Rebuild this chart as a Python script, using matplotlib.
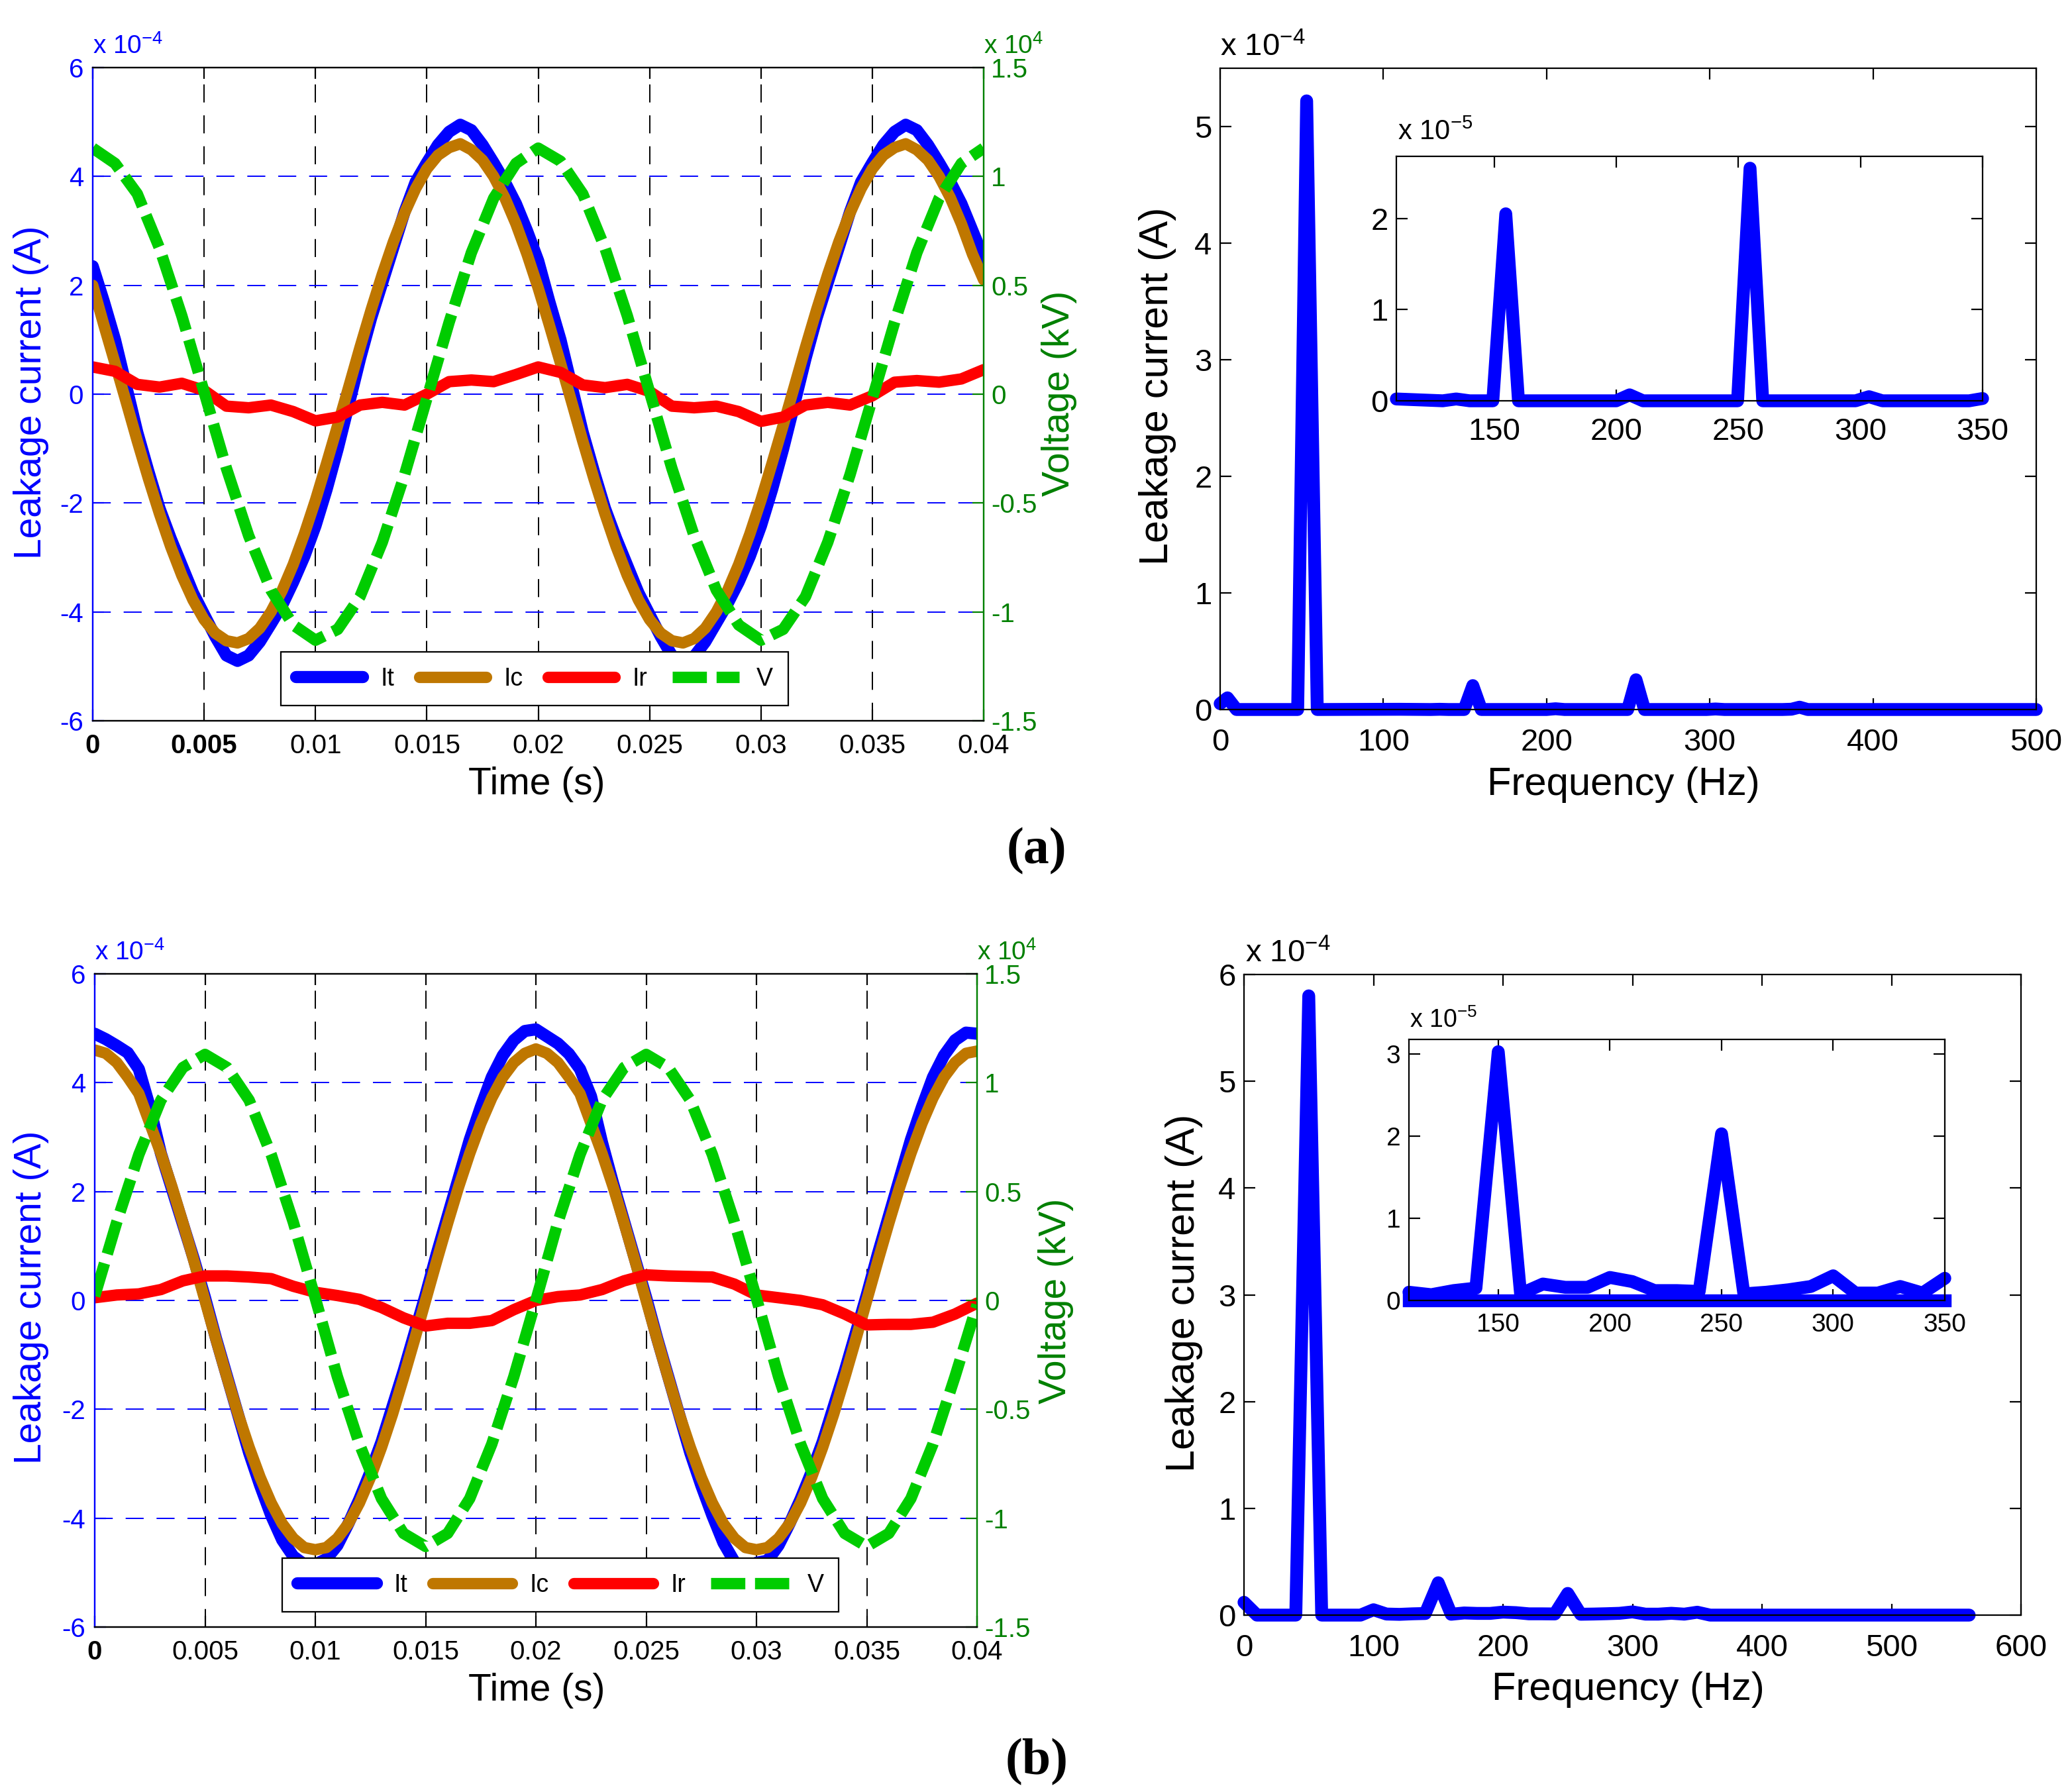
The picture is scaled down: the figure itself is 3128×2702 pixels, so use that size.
import numpy as np
import matplotlib
matplotlib.use("Agg")
import matplotlib.pyplot as plt

plt.rcParams["font.family"] = ["Liberation Sans", "DejaVu Sans"]
plt.rcParams["mathtext.fontset"] = "custom"
plt.rcParams["mathtext.rm"] = "Liberation Sans"
plt.rcParams["mathtext.it"] = "Liberation Sans"

W, H, DPI = 3128, 2702, 200

BLUE = "#0000ff"
BROWN = "#bf7700"
RED = "#ff0000"
LGREEN = "#00cc00"
DGREEN = "#008000"

# ---------------- data ----------------
# readings every 0.5 ms (It, Ic) and every 1 ms (Ir, V)
t_half = np.arange(0, 81) / 2000.0
t = np.arange(0, 41) / 1000.0

# (a) leakage currents in 1e-4 A, voltage in 1e4 V
it_a = [2.35, 1.70, 1.00, 0.15, -0.70, -1.42, -2.10, -2.65, -3.15, -3.65,
        -4.05, -4.45, -4.80, -4.90, -4.80, -4.55, -4.22, -3.88, -3.45, -2.98,
        -2.42, -1.75, -1.00, -0.18, 0.65, 1.40, 2.05, 2.70, 3.35, 3.90,
        4.25, 4.58, 4.82, 4.95, 4.85, 4.58, 4.25, 3.90, 3.50, 3.00,
        2.45, 1.70, 1.00, 0.15, -0.70, -1.42, -2.10, -2.65, -3.15, -3.65,
        -4.05, -4.45, -4.80, -4.92, -4.82, -4.55, -4.20, -3.85, -3.45, -2.98,
        -2.42, -1.75, -1.00, -0.18, 0.65, 1.40, 2.05, 2.70, 3.35, 3.90,
        4.25, 4.58, 4.82, 4.95, 4.85, 4.58, 4.25, 3.90, 3.50, 3.00,
        2.50]
ic_a = [2.00, 1.27, 0.57, -0.14, -0.86, -1.55, -2.20, -2.80, -3.33, -3.78,
        -4.14, -4.39, -4.53, -4.57, -4.49, -4.30, -4.00, -3.61, -3.13, -2.57,
        -1.95, -1.27, -0.57, 0.14, 0.86, 1.55, 2.20, 2.80, 3.33, 3.78,
        4.14, 4.39, 4.53, 4.60, 4.49, 4.30, 4.00, 3.61, 3.13, 2.57,
        1.95, 1.27, 0.57, -0.14, -0.86, -1.55, -2.20, -2.80, -3.33, -3.78,
        -4.14, -4.39, -4.53, -4.57, -4.49, -4.30, -4.00, -3.61, -3.13, -2.57,
        -1.95, -1.27, -0.57, 0.14, 0.86, 1.55, 2.20, 2.80, 3.33, 3.78,
        4.14, 4.39, 4.53, 4.60, 4.49, 4.30, 4.00, 3.61, 3.13, 2.57,
        2.10]
ir_a = [0.50, 0.42, 0.18, 0.13, 0.20, 0.07, -0.22, -0.25, -0.20, -0.32,
        -0.49, -0.42, -0.20, -0.15, -0.20, 0.00, 0.23, 0.26, 0.23, 0.36,
        0.50, 0.40, 0.17, 0.12, 0.18, 0.05, -0.22, -0.25, -0.22, -0.32,
        -0.50, -0.42, -0.20, -0.15, -0.20, -0.03, 0.22, 0.25, 0.22, 0.28,
        0.45]
v_a = [1.13, 1.06, 0.92, 0.67, 0.36, 0.01, -0.34, -0.65, -0.90, -1.06,
       -1.13, -1.08, -0.93, -0.68, -0.37, -0.02, 0.33, 0.65, 0.90, 1.06,
       1.13, 1.07, 0.92, 0.67, 0.36, 0.01, -0.34, -0.65, -0.90, -1.06,
       -1.13, -1.08, -0.93, -0.68, -0.37, -0.02, 0.33, 0.65, 0.90, 1.06,
       1.13]

# (b)
it_b = [4.90, 4.80, 4.68, 4.55, 4.25, 3.55, 2.70, 2.05, 1.40, 0.75,
        0.05, -0.70, -1.40, -2.10, -2.80, -3.40, -3.95, -4.40, -4.70, -4.85,
        -4.85, -4.75, -4.50, -4.10, -3.65, -3.15, -2.60, -1.95, -1.30, -0.60,
        0.10, 0.85, 1.55, 2.25, 2.95, 3.55, 4.10, 4.50, 4.78, 4.95,
        4.98, 4.85, 4.72, 4.53, 4.25, 3.75, 2.90, 2.15, 1.45, 0.75,
        0.05, -0.70, -1.40, -2.10, -2.80, -3.40, -3.95, -4.45, -4.80, -4.92,
        -4.82, -4.78, -4.50, -4.10, -3.65, -3.15, -2.60, -1.95, -1.30, -0.60,
        0.10, 0.85, 1.55, 2.25, 2.95, 3.55, 4.10, 4.50, 4.78, 4.92,
        4.90]
ic_b = [4.60, 4.54, 4.37, 4.10, 3.80, 3.25, 2.70, 2.09, 1.42, 0.72,
        0.00, -0.72, -1.42, -2.09, -2.70, -3.25, -3.72, -4.10, -4.37, -4.54,
        -4.58, -4.54, -4.37, -4.10, -3.72, -3.25, -2.70, -2.09, -1.42, -0.72,
        0.00, 0.72, 1.42, 2.09, 2.70, 3.25, 3.72, 4.10, 4.37, 4.54,
        4.62, 4.54, 4.37, 4.10, 3.80, 3.25, 2.70, 2.09, 1.42, 0.72,
        0.00, -0.72, -1.42, -2.09, -2.70, -3.25, -3.72, -4.10, -4.37, -4.54,
        -4.58, -4.54, -4.37, -4.10, -3.72, -3.25, -2.70, -2.09, -1.42, -0.72,
        0.00, 0.72, 1.42, 2.09, 2.70, 3.25, 3.72, 4.10, 4.37, 4.54,
        4.58]
ir_b = [0.05, 0.10, 0.12, 0.20, 0.36, 0.45, 0.45, 0.43, 0.40, 0.26,
        0.15, 0.09, 0.02, -0.13, -0.32, -0.47, -0.42, -0.42, -0.37, -0.17,
        0.00, 0.07, 0.10, 0.20, 0.36, 0.47, 0.45, 0.44, 0.43, 0.30,
        0.10, 0.05, 0.00, -0.08, -0.25, -0.45, -0.44, -0.44, -0.40, -0.25,
        -0.05]
v_b = [0.02, 0.36, 0.67, 0.92, 1.07, 1.13, 1.07, 0.92, 0.67, 0.36,
       0.01, -0.35, -0.66, -0.91, -1.07, -1.13, -1.07, -0.91, -0.66, -0.35,
       0.00, 0.36, 0.67, 0.92, 1.07, 1.13, 1.07, 0.92, 0.67, 0.36,
       0.01, -0.35, -0.66, -0.91, -1.07, -1.13, -1.07, -0.91, -0.66, -0.35,
       -0.02]

# spectra, amplitude in 1e-4 A
freq_a = [0, 4.5, 10, 47.5, 53, 59.5, 110, 129, 134.5, 140, 149.5, 154.8,
          160, 200, 205.5, 211, 249.7, 254.8, 260, 298, 303.5, 309, 344.5,
          350, 355, 360, 500]
amp_a = [0.05, 0.10, 0.0, 0.0, 5.22, 0.0, 0.002, 0.0, 0.002, 0.0, 0.0, 0.205,
         0.0, 0.0, 0.0065, 0.0, 0.0, 0.255, 0.0, 0.0, 0.0045, 0.0, 0.0,
         0.0025, 0.02, 0.0, 0.0]

freq_b = np.arange(0, 561, 10)
amp_b = [0.12, 0.0, 0.0, 0.0, 0.0, 5.8, 0.0, 0.0, 0.0, 0.0,
         0.05, 0.010, 0.007, 0.012, 0.015, 0.303, 0.008, 0.020, 0.016, 0.016,
         0.028, 0.023, 0.012, 0.012, 0.011, 0.203, 0.008, 0.010, 0.013, 0.017,
         0.030, 0.009, 0.009, 0.017, 0.009, 0.027, 0.0, 0.0, 0.0, 0.0,
         0.0, 0.0, 0.0, 0.0, 0.0, 0.0, 0.0, 0.0, 0.0, 0.0,
         0.0, 0.0, 0.0, 0.0, 0.0, 0.0, 0.0]

t_ticks = [0, 0.005, 0.01, 0.015, 0.02, 0.025, 0.03, 0.035, 0.04]
t_labels = ["0", "0.005", "0.01", "0.015", "0.02", "0.025", "0.03", "0.035", "0.04"]
i_ticks = [-6, -4, -2, 0, 2, 4, 6]
v_ticks = [-1.5, -1, -0.5, 0, 0.5, 1, 1.5]
v_labels = ["-1.5", "-1", "-0.5", "0", "0.5", "1", "1.5"]
series_names = ["It", "Ic", "Ir", "V"]

LW_T = 6.2   # time-series line width
LW_S = 7.0   # spectrum line width

fig = plt.figure(figsize=(W / DPI, H / DPI), dpi=DPI)


def rect(l, t_, r, b):
    return [l / W, 1 - b / H, (r - l) / W, (b - t_) / H]


def ftext(x, y, s, **kw):
    fig.text(x / W, 1 - y / H, s, **kw)


def time_panel(box, it, ic, ir, v, bold_idx, lab, hlen, leg_x):
    ax = fig.add_axes(rect(*box))
    ax.plot(t_half, it, color=BLUE, lw=LW_T + 0.4, solid_capstyle="round",
            solid_joinstyle="round", label=series_names[0])
    ax.plot(t_half, ic, color=BROWN, lw=LW_T, solid_capstyle="round",
            solid_joinstyle="round", label=series_names[1])
    ax.plot(t, ir, color=RED, lw=LW_T, solid_capstyle="round",
            solid_joinstyle="round", label=series_names[2])
    ax2 = ax.twinx()
    ax2.plot(t, v, color=LGREEN, lw=LW_T, linestyle=(0, (3.0, 0.85)),
             label=series_names[3])

    ax.set_xlim(0, 0.04)
    ax.set_ylim(-6, 6)
    ax2.set_ylim(-1.5, 1.5)
    ax.set_xticks(t_ticks, t_labels)
    ax.set_yticks(i_ticks, [str(v_) for v_ in i_ticks])
    ax2.set_yticks(v_ticks, v_labels)
    for i in bold_idx:
        ax.get_xticklabels()[i].set_fontweight("bold")

    ax.tick_params(axis="x", direction="in", top=True, length=6, width=0.8,
                   labelsize=14.5, pad=7)
    ax.tick_params(axis="y", direction="in", colors=BLUE, length=6, width=0.8,
                   labelsize=14.5, pad=5)
    ax2.tick_params(axis="y", direction="in", colors=DGREEN, length=6, width=0.8,
                    labelsize=14.5, pad=4)
    ax.grid(axis="x", color="k", lw=0.7, linestyle=(0, (14, 10)))
    ax.grid(axis="y", color=BLUE, lw=0.7, linestyle=(0, (14, 10)))

    for a in (ax, ax2):
        for s in a.spines.values():
            s.set_linewidth(0.8)
    ax.spines["left"].set_color(BLUE)
    ax2.spines["left"].set_color(BLUE)
    ax.spines["right"].set_color(DGREEN)
    ax2.spines["right"].set_color(DGREEN)

    handles = ax.get_lines() + ax2.get_lines()
    leg = ax2.legend(handles, series_names, loc="lower center",
                     bbox_to_anchor=(leg_x, 0.004), ncol=4, fontsize=13.5,
                     handlelength=hlen, handletextpad=0.7, columnspacing=1.0,
                     borderpad=0.6, fancybox=False, framealpha=1,
                     edgecolor="black")
    leg.get_frame().set_linewidth(0.8)

    l, tp, r, b = box
    ftext(l, tp - 32, r"x 10$^{-4}$", color=BLUE, fontsize=14, ha="left", va="center")
    ftext(r, tp - 32, r"x 10$^{4}$", color=DGREEN, fontsize=14, ha="left", va="center")
    ftext(lab[0][0], lab[0][1], "Leakage current (A)", color=BLUE, fontsize=20.5,
          rotation=90, ha="center", va="center")
    ftext(lab[1][0], lab[1][1], "Voltage (kV)", color=DGREEN, fontsize=20.5,
          rotation=90, ha="center", va="center")
    ftext(lab[2][0], lab[2][1], "Time (s)", fontsize=20.5, ha="center", va="center")
    return ax


def spec_axes(box, f, amp, xlim, ylim, xticks, yticks, fs, pad):
    ax = fig.add_axes(rect(*box))
    ax.plot(f, amp, color=BLUE, lw=LW_S, solid_capstyle="round",
            solid_joinstyle="round", clip_on=False)
    ax.set_xlim(*xlim)
    ax.set_ylim(*ylim)
    ax.set_xticks(xticks, [str(x) for x in xticks])
    ax.set_yticks(yticks, [str(y) for y in yticks])
    ax.tick_params(direction="in", top=True, right=True, length=6, width=0.8,
                   labelsize=fs)
    ax.tick_params(axis="x", pad=pad)
    ax.tick_params(axis="y", pad=4.5)
    for s in ax.spines.values():
        s.set_linewidth(0.8)
    return ax


# ---------------- (a) ----------------
time_panel((140, 102, 1485, 1088), it_a, ic_a, ir_a, v_a, [0, 1],
           [(47, 592), (1599, 594), (810, 1184)], 2.7, 0.496)

spec_axes((1842, 103, 3074, 1071), freq_a, amp_a, (0, 500), (0, 5.5),
          [0, 100, 200, 300, 400, 500], [0, 1, 2, 3, 4, 5], 17, 10)
ftext(1842, 72, r"x 10$^{-4}$", fontsize=17, ha="left", va="center")
ftext(1748, 583, "Leakage current (A)", fontsize=22, rotation=90, ha="center", va="center")
ftext(2451, 1184, "Frequency (Hz)", fontsize=21.5, ha="center", va="center")

fa = np.array(freq_a)
sel = (fa >= 110) & (fa <= 350)
spec_axes((2108, 236, 2993, 605), fa[sel], np.array(amp_a)[sel] * 10, (110, 350),
          (0, 2.68), [150, 200, 250, 300, 350], [0, 1, 2], 17, 9)
ftext(2110, 200, r"x 10$^{-5}$", fontsize=15, ha="left", va="center")

ftext(1565, 1285, "(a)", fontsize=28, fontweight="bold", family="Liberation Serif",
      ha="center", va="center")

# ---------------- (b) ----------------
time_panel((143, 1470, 1475, 2456), it_b, ic_b, ir_b, v_b, [0],
           [(47, 1958), (1594, 1964), (810, 2552)], 3.2, 0.528)

spec_axes((1878, 1471, 3051, 2438), freq_b, amp_b, (0, 600), (0, 6),
          [0, 100, 200, 300, 400, 500, 600], [0, 1, 2, 3, 4, 5, 6], 17, 10)
ftext(1880, 1440, r"x 10$^{-4}$", fontsize=17, ha="left", va="center")
ftext(1787, 1952, "Leakage current (A)", fontsize=22, rotation=90, ha="center", va="center")
ftext(2458, 2551, "Frequency (Hz)", fontsize=21.5, ha="center", va="center")

sel_b = (freq_b >= 110) & (freq_b <= 350)
axi = spec_axes((2127, 1569, 2936, 1963), freq_b[sel_b], np.array(amp_b)[sel_b] * 10,
                (110, 350), (0, 3.18), [150, 200, 250, 300, 350], [0, 1, 2, 3], 14, 7)
axi.axhline(0, color=BLUE, lw=LW_S, clip_on=False)
ftext(2128, 1540, r"x 10$^{-5}$", fontsize=13.5, ha="left", va="center")

ftext(1565, 2660, "(b)", fontsize=28, fontweight="bold", family="Liberation Serif",
      ha="center", va="center")

fig.savefig("out.png", dpi=DPI)
